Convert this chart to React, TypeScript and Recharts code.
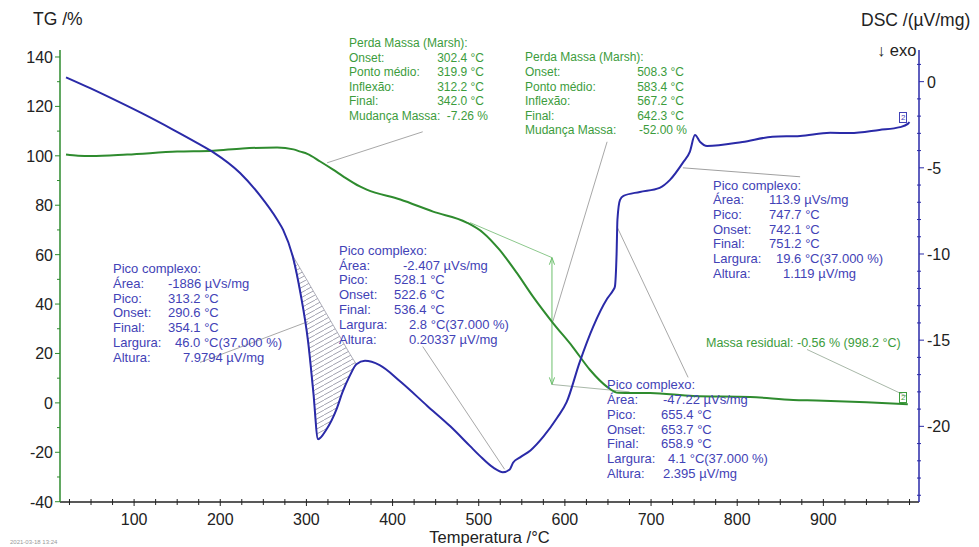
import React from 'react';
import { ComposedChart, Line, Area, XAxis, YAxis, ReferenceLine } from 'recharts';

// ---------------- DATA ----------------
const dscTemps = [21, 49, 80, 110, 145, 173, 192, 223, 246, 266, 273, 285, 293, 302, 308, 313.5, 323, 335, 342, 350, 358, 368, 385, 409, 440, 467, 490, 501, 517, 528, 536, 540, 548, 560, 575, 591, 602, 617, 633, 649, 656, 658, 660, 661, 664, 668, 687, 710, 722, 737, 745, 751, 757, 765, 806, 841, 873, 908, 931, 965, 989, 998, 1000];
const dscValues = [0.25, -0.38, -1.12, -1.86, -2.78, -3.55, -4.1, -5.3, -6.6, -8.0, -8.6, -10.3, -12.25, -15.1, -18.0, -20.75, -20.2, -19.0, -18.0, -17.1, -16.4, -16.2, -16.45, -17.4, -18.8, -20.0, -21.15, -21.7, -22.4, -22.66, -22.5, -22.1, -21.8, -21.4, -20.6, -19.5, -18.6, -16.3, -14.2, -12.6, -12.1, -11.9, -10.0, -8.0, -6.86, -6.63, -6.4, -6.16, -5.7, -4.7, -4.07, -3.1, -3.5, -3.73, -3.5, -3.2, -3.15, -2.97, -2.98, -2.8, -2.64, -2.45, -2.35];

const tgTemps = [21, 35, 50, 92, 150, 192, 226, 266, 285, 293, 301, 316, 331, 343, 362, 370, 409, 447, 486, 505, 524, 544, 563, 586, 609, 629, 649, 662, 699, 749, 815, 865, 892, 950, 998];
const tgValues = [100.5, 100.0, 99.9, 100.5, 101.7, 102.1, 103.0, 103.4, 102.6, 101.7, 100.8, 97.7, 94.4, 91.6, 87.6, 86.3, 82.3, 77.4, 73.0, 68.9, 62.0, 52.7, 43.0, 32.4, 22.7, 13.4, 6.5, 4.05, 4.0, 2.8, 2.4, 1.2, 1.0, 0.3, -0.56];

// hatched peak area (DSC baseline vs curve)
const hatchTemps = [283, 293, 302, 308, 313.5, 323, 335, 342, 350, 358];
const hatchBase = [-10.0, -10.86, -11.63, -12.15, -12.62, -13.44, -14.47, -15.07, -15.76, -16.4];
const hatchPeak = [-10.0, -12.25, -15.1, -18.0, -20.75, -20.2, -19.0, -18.0, -17.1, -16.4];

const xTicks = [25, 50, 75, 100, 125, 150, 175, 200, 225, 250, 275, 300, 325, 350, 375, 400, 425, 450, 475, 500, 525, 550, 575, 600, 625, 650, 675, 700, 725, 750, 775, 800, 825, 850, 875, 900, 925, 950, 975, 1000];
const tgTicks = [-40, -30, -20, -10, 0, 10, 20, 30, 40, 50, 60, 70, 80, 90, 100, 110, 120, 130, 140];
const dscTicks = [-24, -23, -22, -21, -20, -19, -18, -17, -16, -15, -14, -13, -12, -11, -10, -9, -8, -7, -6, -5, -4, -3, -2, -1, 0, 1];

// annotation leader lines in (T, DSC) coordinates
const leaderLines = [
  { x1: 435, y1: -2.91, x2: 324, y2: -4.71, c: '#a8a8a8' },
  { x1: 649, y1: -3.49, x2: 586, y2: -13.92, c: '#a8a8a8' },
  { x1: 585, y1: -10.21, x2: 585, y2: -17.57, c: '#6cbf6c' },
  { x1: 490, y1: -8.18, x2: 585, y2: -10.21, c: '#8cc88c' },
  { x1: 585, y1: -17.57, x2: 675, y2: -18.0, c: '#a8b8a8' },
  { x1: 582, y1: -10.62, x2: 585, y2: -10.21, c: '#6cbf6c' },
  { x1: 588, y1: -10.62, x2: 585, y2: -10.21, c: '#6cbf6c' },
  { x1: 582, y1: -17.16, x2: 585, y2: -17.57, c: '#6cbf6c' },
  { x1: 588, y1: -17.16, x2: 585, y2: -17.57, c: '#6cbf6c' },
  { x1: 881, y1: -15.54, x2: 997, y2: -18.26, c: '#a8b8a8' },
  { x1: 737, y1: -5.0, x2: 873, y2: -5.52, c: '#a0a0a0' },
  { x1: 660.5, y1: -8.42, x2: 743, y2: -17.16, c: '#a8a8a8' },
  { x1: 435, y1: -15.37, x2: 530, y2: -22.49, c: '#a8a8a8' },
  { x1: 176.5, y1: -16.29, x2: 302, y2: -13.92, c: '#a8a8a8' },
];

const dscData = dscTemps.map((t, i) => ({ T: t, v: dscValues[i] }));
const tgData = tgTemps.map((t, i) => ({ T: t, v: tgValues[i] }));
const hatchData = hatchTemps.map((t, i) => ({ T: t, r: [hatchBase[i], hatchPeak[i]] }));

// ---------------- STYLE ----------------
const GREEN = '#2e8b2e';
const BLUE = '#2a2aa8';
const GREEN_TXT = '#3c9c3c';
const BLUE_TXT = '#4242b6';
const FONT = '"Liberation Sans", Arial, sans-serif';

const XTick = (props: any) => {
  const { x, y, payload } = props;
  const v = payload.value;
  const major = v % 100 === 0 && v >= 100 && v <= 900;
  return (
    <g>
      <line x1={x} x2={x} y1={y - 3} y2={y + (major ? 4 : 3)} stroke="#222" strokeWidth={1} />
      {major && (
        <text x={x} y={y + 23} textAnchor="middle" fontSize={16} fill="#222" fontFamily={FONT}>{v}</text>
      )}
    </g>
  );
};

const LeftTick = (props: any) => {
  const { x, y, payload } = props;
  const v = payload.value;
  const major = v % 20 === 0;
  return (
    <g>
      <line x1={x - (major ? 5 : 3)} x2={x} y1={y} y2={y} stroke={GREEN} strokeWidth={1} />
      {major && (
        <text x={x - 7} y={y + 6} textAnchor="end" fontSize={16} fill="#222" fontFamily={FONT}>{v}</text>
      )}
    </g>
  );
};

const RightTick = (props: any) => {
  const { x, y, payload } = props;
  const v = payload.value;
  const major = v % 5 === 0;
  return (
    <g>
      <line x1={major ? x : x - 2} x2={x + (major ? 5 : 2)} y1={y} y2={y} stroke={BLUE} strokeWidth={1} />
      {major && (
        <text x={x + 8} y={y + 6} textAnchor="start" fontSize={16} fill="#222" fontFamily={FONT}>{v}</text>
      )}
    </g>
  );
};

type Row = { y: number; label: string; vx?: number; value?: string; right?: boolean };

const TextBox = ({ x, rows, color, size }: { x: number; rows: Row[]; color: string; size: number }) => (
  <>
    {rows.map((r, i) => (
      <React.Fragment key={i}>
        <div style={{ position: 'absolute', left: x, top: r.y - 8, lineHeight: '16px', fontSize: size, color, whiteSpace: 'pre' }}>{r.label}</div>
        {r.value !== undefined && (
          r.right ? (
            <div style={{ position: 'absolute', right: 979 - (r.vx as number), top: r.y - 8, lineHeight: '16px', fontSize: size, color, whiteSpace: 'pre' }}>{r.value}</div>
          ) : (
            <div style={{ position: 'absolute', left: r.vx, top: r.y - 8, lineHeight: '16px', fontSize: size, color, whiteSpace: 'pre' }}>{r.value}</div>
          )
        )}
      </React.Fragment>
    ))}
  </>
);

export default function App() {
  return (
    <div style={{ position: 'absolute', left: 0, top: 0, width: 979, height: 547, background: '#fff', fontFamily: FONT, overflow: 'hidden' }}>
      <ComposedChart width={979} height={547} margin={{ top: 50, right: 10, bottom: 15, left: 10 }}>
        <defs>
          <pattern id="hatch" patternUnits="userSpaceOnUse" width="9" height="5">
            <path d="M-1,5.5 L10,-0.5" stroke="#8a8a9a" strokeWidth="0.8" />
          </pattern>
        </defs>
        <XAxis
          type="number"
          dataKey="T"
          domain={[14, 1011]}
          ticks={xTicks}
          interval={0}
          allowDataOverflow
          height={30}
          tickSize={0}
          tickMargin={0}
          tickLine={false}
          axisLine={{ stroke: '#222', strokeWidth: 1.5 }}
          tick={<XTick />}
        />
        <YAxis
          yAxisId="left"
          orientation="left"
          domain={[-40.12, 142.83]}
          ticks={tgTicks}
          interval={0}
          allowDataOverflow
          width={50}
          tickSize={0}
          tickMargin={0}
          tickLine={false}
          axisLine={{ stroke: GREEN, strokeWidth: 1.5 }}
          tick={<LeftTick />}
        />
        <YAxis
          yAxisId="right"
          orientation="right"
          domain={[-24.39, 1.836]}
          ticks={dscTicks}
          interval={0}
          allowDataOverflow
          width={50}
          tickSize={0}
          tickMargin={0}
          tickLine={false}
          axisLine={{ stroke: BLUE, strokeWidth: 1.5 }}
          tick={<RightTick />}
        />
        {leaderLines.map((l, i) => (
          <ReferenceLine
            key={i}
            yAxisId="right"
            segment={[{ x: l.x1, y: l.y1 }, { x: l.x2, y: l.y2 }]}
            stroke={l.c}
            strokeWidth={1}
          />
        ))}
        <Area
          yAxisId="right"
          data={hatchData}
          dataKey="r"
          type="monotone"
          stroke="#9a9aa8"
          strokeWidth={0.8}
          fill="url(#hatch)"
          fillOpacity={1}
          isAnimationActive={false}
          dot={false}
          activeDot={false}
        />
        <Line
          yAxisId="left"
          data={tgData}
          dataKey="v"
          type="monotone"
          stroke={GREEN}
          strokeWidth={2}
          dot={false}
          activeDot={false}
          isAnimationActive={false}
        />
        <Line
          yAxisId="right"
          data={dscData}
          dataKey="v"
          type="monotone"
          stroke={BLUE}
          strokeWidth={2}
          dot={false}
          activeDot={false}
          isAnimationActive={false}
        />
      </ComposedChart>

      {/* axis titles */}
      <div style={{ position: 'absolute', left: 33, top: 9, fontSize: 17.5, color: '#222', whiteSpace: 'pre' }}>TG /%</div>
      <div style={{ position: 'absolute', left: 861, top: 10, fontSize: 17.5, color: '#222', whiteSpace: 'pre' }}>DSC /(µV/mg)</div>
      <div style={{ position: 'absolute', left: 877, top: 41, fontSize: 16.5, color: '#222', whiteSpace: 'pre' }}>↓ exo</div>
      <div style={{ position: 'absolute', left: 0, width: 979, textAlign: 'center', top: 528, fontSize: 16.5, lineHeight: '18px', color: '#222' }}>Temperatura /°C</div>
      <div style={{ position: 'absolute', left: 10, top: 539, fontSize: 6, color: '#999', whiteSpace: 'pre' }}>2021-03-18 13:24</div>

      {/* green box 1 */}
      <TextBox x={349} color={GREEN_TXT} size={12} rows={[
        { y: 43, label: 'Perda Massa (Marsh):' },
        { y: 58, label: 'Onset:', vx: 484, value: '302.4 °C', right: true },
        { y: 72, label: 'Ponto médio:', vx: 484, value: '319.9 °C', right: true },
        { y: 87, label: 'Inflexão:', vx: 484, value: '312.2 °C', right: true },
        { y: 101, label: 'Final:', vx: 484, value: '342.0 °C', right: true },
        { y: 116, label: 'Mudança Massa:', vx: 488, value: '-7.26 %', right: true },
      ]} />
      {/* green box 2 */}
      <TextBox x={525} color={GREEN_TXT} size={12} rows={[
        { y: 57, label: 'Perda Massa (Marsh):' },
        { y: 72, label: 'Onset:', vx: 684, value: '508.3 °C', right: true },
        { y: 87, label: 'Ponto médio:', vx: 684, value: '583.4 °C', right: true },
        { y: 101, label: 'Inflexão:', vx: 684, value: '567.2 °C', right: true },
        { y: 116, label: 'Final:', vx: 684, value: '642.3 °C', right: true },
        { y: 130, label: 'Mudança Massa:', vx: 687, value: '-52.00 %', right: true },
      ]} />
      {/* blue box left */}
      <TextBox x={113} color={BLUE_TXT} size={13} rows={[
        { y: 269, label: 'Pico complexo:' },
        { y: 284, label: 'Área:', vx: 168, value: '-1886 µVs/mg' },
        { y: 299, label: 'Pico:', vx: 168, value: '313.2 °C' },
        { y: 313, label: 'Onset:', vx: 168, value: '290.6 °C' },
        { y: 328, label: 'Final:', vx: 168, value: '354.1 °C' },
        { y: 343, label: 'Largura:', vx: 175, value: '46.0 °C(37.000 %)' },
        { y: 358, label: 'Altura:', vx: 183, value: '7.9794 µV/mg' },
      ]} />
      {/* blue box middle */}
      <TextBox x={339} color={BLUE_TXT} size={13} rows={[
        { y: 251, label: 'Pico complexo:' },
        { y: 266, label: 'Área:', vx: 403, value: '-2.407 µVs/mg' },
        { y: 280, label: 'Pico:', vx: 394, value: '528.1 °C' },
        { y: 295, label: 'Onset:', vx: 394, value: '522.6 °C' },
        { y: 310, label: 'Final:', vx: 394, value: '536.4 °C' },
        { y: 325, label: 'Largura:', vx: 409, value: '2.8 °C(37.000 %)' },
        { y: 340, label: 'Altura:', vx: 409, value: '0.20337 µV/mg' },
      ]} />
      {/* blue box right */}
      <TextBox x={713} color={BLUE_TXT} size={13} rows={[
        { y: 186, label: 'Pico complexo:' },
        { y: 200, label: 'Área:', vx: 769, value: '113.9 µVs/mg' },
        { y: 215, label: 'Pico:', vx: 769, value: '747.7 °C' },
        { y: 230, label: 'Onset:', vx: 769, value: '742.1 °C' },
        { y: 244, label: 'Final:', vx: 769, value: '751.2 °C' },
        { y: 259, label: 'Largura:', vx: 776, value: '19.6 °C(37.000 %)' },
        { y: 274, label: 'Altura:', vx: 783, value: '1.119 µV/mg' },
      ]} />
      {/* blue box bottom */}
      <TextBox x={607} color={BLUE_TXT} size={13} rows={[
        { y: 385, label: 'Pico complexo:' },
        { y: 400, label: 'Área:', vx: 663, value: '-47.22 µVs/mg' },
        { y: 415, label: 'Pico:', vx: 661, value: '655.4 °C' },
        { y: 430, label: 'Onset:', vx: 661, value: '653.7 °C' },
        { y: 444, label: 'Final:', vx: 661, value: '658.9 °C' },
        { y: 459, label: 'Largura:', vx: 668, value: '4.1 °C(37.000 %)' },
        { y: 474, label: 'Altura:', vx: 663, value: '2.395 µV/mg' },
      ]} />
      {/* residual mass */}
      <div style={{ position: 'absolute', left: 706, top: 335, fontSize: 12.5, lineHeight: '16px', color: GREEN_TXT, whiteSpace: 'pre' }}>Massa residual: -0.56 % (998.2 °C)</div>

      {/* [2] markers */}
      <div style={{ position: 'absolute', left: 899, top: 112, fontSize: 8, lineHeight: '9px', color: BLUE_TXT, border: `1px solid ${BLUE_TXT}`, padding: '0 1px' }}>2</div>
      <div style={{ position: 'absolute', left: 899, top: 392, fontSize: 8, lineHeight: '9px', color: GREEN_TXT, border: `1px solid ${GREEN_TXT}`, padding: '0 1px' }}>2</div>
    </div>
  );
}
